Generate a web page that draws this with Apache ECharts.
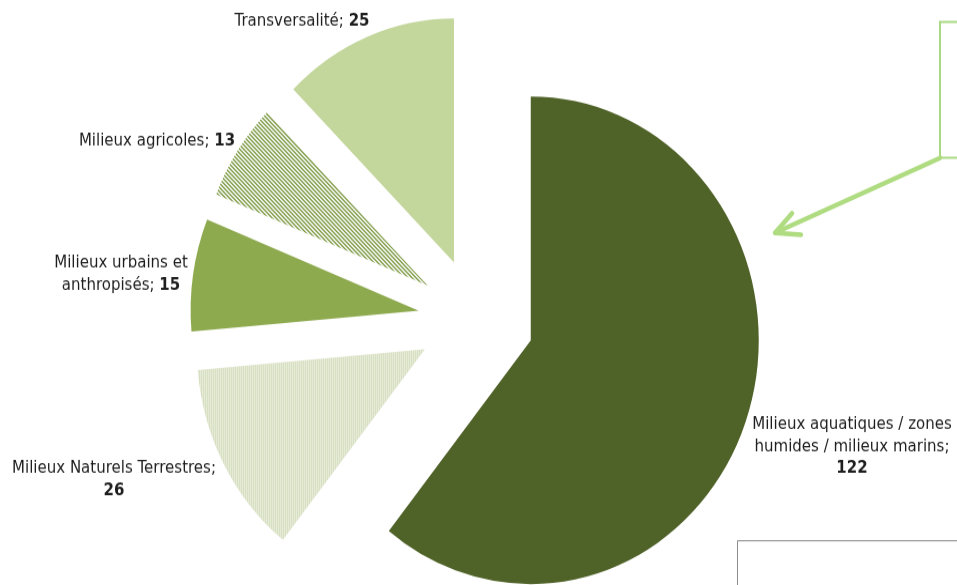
<!DOCTYPE html>
<html><head><meta charset="utf-8">
<script src="https://cdn.jsdelivr.net/npm/echarts@6/dist/echarts.min.js"></script>
<style>
html,body{margin:0;padding:0;background:#fff;overflow:hidden}
#wrap{width:957px;height:585px;overflow:hidden;position:relative;background:#fff}
#chart{width:957px;height:547px;transform:scaleY(1.0695);transform-origin:0 0}
</style></head><body><div id="wrap"><div id="chart"></div></div>
<script>
// ---- data ----
const categories = [
  'Milieux aquatiques / zones\nhumides / milieux marins;',
  'Milieux Naturels Terrestres;',
  'Milieux urbains et\nanthropisés;',
  'Milieux agricoles;',
  'Transversalité;'
];
const values = [122, 26, 15, 13, 25];

// ---- style / layout ----
const valueBreak = ['\n', '\n', ' ', ' ', ' '];
const labelAnchor = [[852, 418], [114, 448.6], [121, 256.6], [157, 132.6], [302, 20.5]];
const FONT = "'DejaVu Sans', sans-serif";

function pattern(size, fn) {
  const c = document.createElement('canvas');
  c.width = size; c.height = size;
  const ctx = c.getContext('2d');
  for (let x = 0; x < size; x++) for (let y = 0; y < size; y++) {
    ctx.fillStyle = fn(x, y);
    ctx.fillRect(x, y, 1, 1);
  }
  return c;
}
const diagStripes = pattern(8, (x, y) => (((x - y) % 4 + 4) % 4) < 2 ? '#7f9b46' : '#ffffff');
const fineVert = pattern(4, (x, y) => (x % 2 === 0) ? '#d8e0c2' : ((y % 2 === 0) ? '#ebf0df' : '#e3e9d3'));

const colors = [
  '#4f6228',
  { image: fineVert, repeat: 'repeat' },
  '#8eaa4f',
  { image: diagStripes, repeat: 'repeat' },
  '#c3d69b'
];

function labelText(i) {
  const lines = categories[i].split('\n').map(s => '{n|' + s + '}').join('\n');
  return lines + valueBreak[i] + '{b|' + values[i] + '}';
}
const richStyle = {
  n: { fontFamily: FONT, fontSize: 15, fill: '#1e1e1e', lineHeight: 20.6 },
  b: { fontFamily: FONT, fontSize: 15, fill: '#1e1e1e', fontWeight: 'bold', lineHeight: 20.6 }
};

const chart = echarts.init(document.getElementById('chart'), null, { renderer: 'canvas' });
chart.setOption({
  animation: false,
  backgroundColor: '#ffffff',
  series: [{
    type: 'pie',
    center: [476, 299],
    radius: 228,
    startAngle: 90,
    clockwise: true,
    selectedMode: 'multiple',
    selectedOffset: 58,
    avoidLabelOverlap: false,
    emphasis: { disabled: true },
    itemStyle: { borderWidth: 0 },
    label: { show: false },
    labelLine: { show: false },
    data: categories.map((c, i) => ({
      name: c,
      value: values[i],
      selected: true,
      itemStyle: { color: colors[i] }
    }))
  }],
  graphic: [
    { type: 'rect', shape: { x: 940, y: 20.6, width: 60, height: 127 }, style: { fill: 'none', stroke: '#a9d983', lineWidth: 2 } },
    { type: 'rect', shape: { x: 737.5, y: 505.6, width: 260, height: 100 }, style: { fill: 'none', stroke: '#8c8c8c', lineWidth: 1 } },
    { type: 'polyline', shape: { points: [[940, 147.7], [776, 217.2]] }, style: { stroke: '#afdc80', lineWidth: 4.5, lineCap: 'round' } },
    { type: 'polyline', shape: { points: [[792, 199.5], [775, 217.8], [801, 219.4]] }, style: { fill: 'none', stroke: '#afdc80', lineWidth: 4.5, lineCap: 'round', lineJoin: 'round' } }
  ].concat(categories.map((c, i) => ({
    type: 'text',
    x: labelAnchor[i][0],
    y: labelAnchor[i][1],
    style: {
      text: labelText(i),
      rich: richStyle,
      align: 'center',
      verticalAlign: 'middle',
      fontFamily: FONT,
      fontSize: 15,
      fill: '#1e1e1e'
    }
  })))
});
</script></body></html>
